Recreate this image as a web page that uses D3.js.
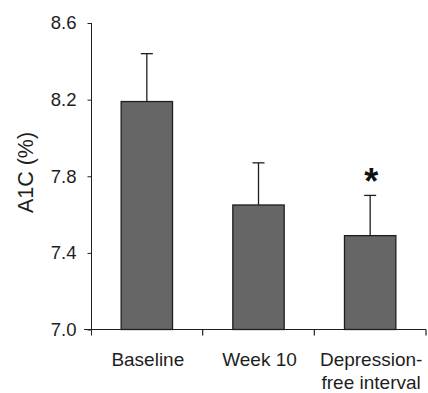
<!DOCTYPE html>
<html>
<head>
<meta charset="utf-8">
<script src="https://cdn.jsdelivr.net/npm/d3@7"></script>
<style>
  body { margin: 0; background: #fff; }
  svg { display: block; font-family: "Liberation Sans", Arial, sans-serif; }
</style>
</head>
<body>
<svg id="chart" width="428" height="393"></svg>
<script>
// A1C by time point, means with upper SD bars
const categories = ["Baseline", "Week 10", "Depression-free interval"];
const labelLines = [["Baseline"], ["Week 10"], ["Depression-", "free interval"]];
const means = [8.19, 7.65, 7.49];
const upper = [8.44, 7.87, 7.70];
const significant = [false, false, true];
const yTicks = [7.0, 7.4, 7.8, 8.2, 8.6];

const svg = d3.select("#chart");
const ink = "#1e1e1e";

// scales
const y = d3.scaleLinear().domain([7.0, 8.6]).range([329.5, 23]);
const slot = d3.scaleBand().domain(categories).range([91, 426]).padding(0);
const barW = slot.bandwidth() * 0.46;

// y axis
const yAxis = svg.append("g")
  .attr("transform", "translate(91.5,0)")
  .call(d3.axisLeft(y).tickValues(yTicks).tickFormat(d3.format(".1f")).tickSize(4).tickPadding(11).tickSizeOuter(0));
yAxis.select(".domain").remove();
yAxis.selectAll("line").attr("stroke", ink);
yAxis.selectAll("text").attr("fill", ink).style("font-size", "18.5px").style("font-family", "Liberation Sans, Arial, sans-serif");
yAxis.append("line")
  .attr("y1", y(8.6)).attr("y2", y(7.0) + 6)
  .attr("stroke", ink);

// bars
const bars = svg.append("g");
bars.selectAll("rect")
  .data(categories)
  .join("rect")
  .attr("x", d => slot(d) + (slot.bandwidth() - barW) / 2)
  .attr("width", barW)
  .attr("y", (d, i) => y(means[i]))
  .attr("height", (d, i) => y(7.0) - y(means[i]))
  .attr("fill", "#666666")
  .attr("stroke", ink)
  .attr("stroke-width", 1.3);

// error bars (upper only)
const err = svg.append("g").attr("stroke", ink).attr("stroke-width", 1.3);
categories.forEach((c, i) => {
  const cx = slot(c) + slot.bandwidth() / 2;
  err.append("line").attr("x1", cx).attr("x2", cx).attr("y1", y(means[i])).attr("y2", y(upper[i]));
  err.append("line").attr("x1", cx - 6).attr("x2", cx + 6).attr("y1", y(upper[i])).attr("y2", y(upper[i]));
  if (significant[i]) {
    svg.append("text")
      .attr("x", cx + 1)
      .attr("y", y(upper[i]) - 1)
      .attr("text-anchor", "middle")
      .attr("fill", "#111")
      .style("font-size", "36px")
      .style("font-weight", "bold")
      .text("*");
  }
});

// x axis: line across, ticks at slot boundaries
const xg = svg.append("g").attr("stroke", ink).attr("stroke-width", 1.2);
xg.append("line").attr("x1", 84).attr("x2", 426).attr("y1", y(7.0)).attr("y2", y(7.0));
const bounds = categories.map(c => slot(c)).concat([slot.range()[1]]);
bounds.slice(1).forEach(b => {
  xg.append("line").attr("x1", b).attr("x2", b).attr("y1", y(7.0)).attr("y2", y(7.0) + 6);
});

// category labels
categories.forEach((c, i) => {
  const t = svg.append("text")
    .attr("x", slot(c) + slot.bandwidth() / 2 + 1)
    .attr("y", 366)
    .attr("text-anchor", "middle")
    .attr("fill", ink)
    .style("font-size", "19px");
  labelLines[i].forEach((line, k) => {
    t.append("tspan").attr("x", slot(c) + slot.bandwidth() / 2 + 1).attr("dy", k === 0 ? 0 : 23).text(line);
  });
});

// y title
svg.append("text")
  .attr("transform", "translate(33,172.5) rotate(-90)")
  .attr("text-anchor", "middle")
  .attr("fill", ink)
  .style("font-size", "21.5px")
  .text("A1C (%)");
</script>
</body>
</html>
